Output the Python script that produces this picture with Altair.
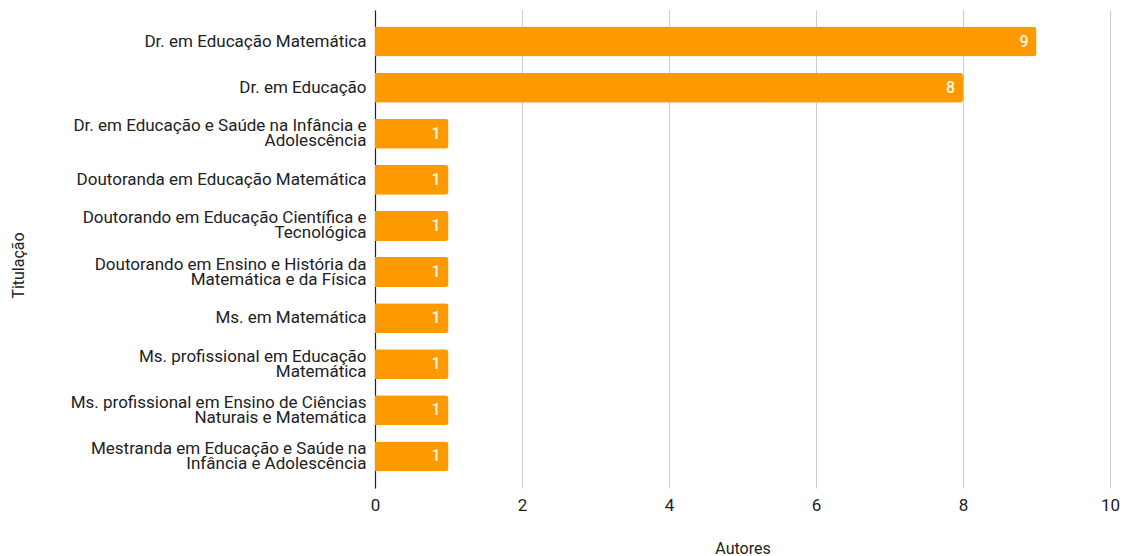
import altair as alt
import pandas as pd

# Titles held by the authors (line breaks marked with "|")
titulacoes = [
    "Dr. em Educação Matemática",
    "Dr. em Educação",
    "Dr. em Educação e Saúde na Infância e|Adolescência",
    "Doutoranda em Educação Matemática",
    "Doutorando em Educação Científica e|Tecnológica",
    "Doutorando em Ensino e História da|Matemática e da Física",
    "Ms. em Matemática",
    "Ms. profissional em Educação|Matemática",
    "Ms. profissional em Ensino de Ciências|Naturais e Matemática",
    "Mestranda em Educação e Saúde na|Infância e Adolescência",
]
autores = [9, 8, 1, 1, 1, 1, 1, 1, 1, 1]

df = pd.DataFrame({"Titulação": titulacoes, "Autores": autores})

FONT = "Roboto"
LINE_H = 15

y_enc = alt.Y(
    "Titulação:N",
    sort=titulacoes,
    scale=alt.Scale(paddingInner=0.35, paddingOuter=0.36),
    axis=alt.Axis(
        title="Titulação",
        labelExpr="split(datum.label, '|')",
        labelFont=FONT,
        labelFontSize=17,
        labelColor="#222222",
        labelLineHeight=LINE_H,
        # two-line labels are lifted so that both lines sit around the bar centre
        labelOffset={
            "condition": {"test": "indexof(datum.label, '|') >= 0", "value": -LINE_H / 2},
            "value": 0,
        },
        labelPadding=9,
        labelLimit=400,
        ticks=False,
        domainColor="#222222",
        domainWidth=1.2,
        titleFont=FONT,
        titleFontSize=16,
        titleFontWeight="normal",
        titleColor="#222222",
        titleAngle=270,
        titleX=-357,
        titleY=255,
        titleBaseline="middle",
        titleAlign="center",
    ),
)

x_enc = alt.X(
    "Autores:Q",
    scale=alt.Scale(domain=[0, 10]),
    axis=alt.Axis(
        title="Autores",
        values=[0, 2, 4, 6, 8, 10],
        format="d",
        labelFlush=False,
        labelFont=FONT,
        labelFontSize=17,
        labelColor="#222222",
        labelPadding=9,
        ticks=False,
        domain=False,
        grid=True,
        gridColor="#cccccc",
        gridWidth=1,
        titleFont=FONT,
        titleFontSize=16,
        titleFontWeight="normal",
        titleColor="#222222",
        titleY=60,
        titleBaseline="middle",
    ),
)

bars = alt.Chart(df).mark_bar(
    color="#ff9900", cornerRadiusTopRight=3, cornerRadiusBottomRight=3
).encode(x=x_enc, y=y_enc)

labels = alt.Chart(df).mark_text(
    align="right", baseline="middle", dx=-8, font=FONT, fontSize=16,
    fontWeight=500, color="#fff8e8"
).encode(
    x="Autores:Q",
    y=alt.Y("Titulação:N", sort=titulacoes),
    text="Autores:Q",
)

chart = (
    alt.layer(bars, labels)
    .properties(
        width=735,
        height=478,
        autosize=alt.AutoSizeParams(type="none"),
        padding={"left": 375, "top": 10, "right": 14, "bottom": 68},
        background="white",
    )
    .configure_view(stroke=None)
)

chart.save("out.html", embed_options={"renderer": "svg", "actions": False})
